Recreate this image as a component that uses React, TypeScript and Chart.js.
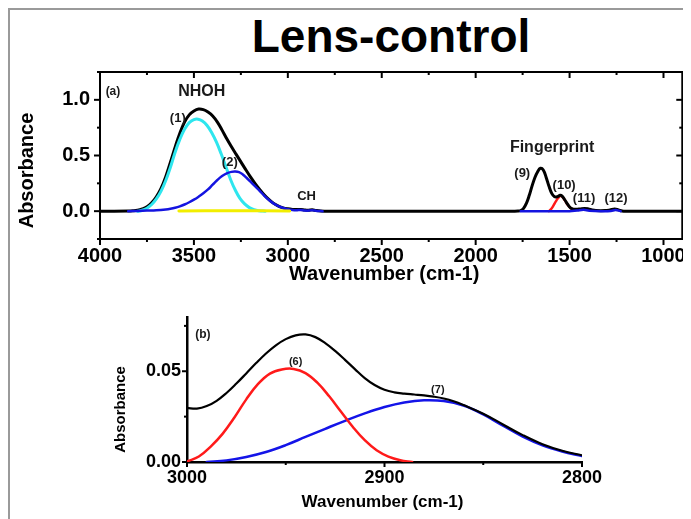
import React, { useEffect, useRef } from "react";
import { Chart, registerables } from "chart.js";
Chart.register(...registerables);

const FONT = '"Liberation Sans", Arial, Helvetica, sans-serif';

// ---------- Panel (a): full spectrum ----------
const totalWn = [4000, 3850, 3825, 3800, 3775, 3750, 3725, 3700, 3675, 3650, 3625, 3600, 3575, 3550, 3525, 3500, 3475, 3450, 3425, 3400, 3375, 3350, 3325, 3300, 3275, 3250, 3225, 3200, 3175, 3150, 3125, 3100, 3075, 3050, 3025, 3000, 2975, 2950, 2930, 2910, 2890, 2870, 2850, 2825, 2800,
  1800, 1775, 1760, 1745, 1730, 1715, 1700, 1685, 1670, 1655, 1640, 1625, 1610, 1595, 1580, 1565, 1550, 1540, 1525, 1510, 1495, 1480, 1465, 1445, 1420, 1400, 1380, 1360, 1310, 1285, 1260, 1240, 1220, 1200, 900];
const totalAbs = [0, 0.001, 0.003, 0.008, 0.02, 0.04, 0.075, 0.13, 0.205, 0.31, 0.44, 0.575, 0.7, 0.8, 0.865, 0.9, 0.917, 0.912, 0.89, 0.855, 0.8, 0.728, 0.65, 0.578, 0.51, 0.443, 0.375, 0.31, 0.25, 0.195, 0.145, 0.103, 0.07, 0.046, 0.03, 0.021, 0.016, 0.014, 0.016, 0.011, 0.009, 0.012, 0.006, 0.001, 0,
  0, 0.001, 0.006, 0.025, 0.07, 0.14, 0.225, 0.3, 0.355, 0.385, 0.37, 0.305, 0.225, 0.16, 0.13, 0.13, 0.142, 0.135, 0.1, 0.06, 0.03, 0.018, 0.017, 0.02, 0.025, 0.02, 0.01, 0.005, 0.005, 0.011, 0.02, 0.012, 0.002, 0, 0];

const band1Wn = [3800, 3775, 3750, 3725, 3700, 3675, 3650, 3625, 3600, 3575, 3550, 3525, 3500, 3478, 3455, 3430, 3405, 3380, 3355, 3330, 3305, 3280, 3255, 3230, 3205, 3180, 3155, 3120];
const band1Abs = [0, 0.008, 0.027, 0.06, 0.11, 0.18, 0.275, 0.395, 0.53, 0.645, 0.735, 0.795, 0.822, 0.826, 0.81, 0.77, 0.705, 0.62, 0.515, 0.4, 0.285, 0.19, 0.115, 0.065, 0.032, 0.013, 0.004, 0];

const band2Wn = [3850, 3800, 3750, 3700, 3650, 3625, 3600, 3575, 3550, 3525, 3500, 3475, 3450, 3425, 3400, 3375, 3350, 3325, 3300, 3280, 3260, 3240, 3220, 3200, 3175, 3150, 3125, 3100, 3075, 3050, 3025, 3000, 2975, 2955, 2930, 2910, 2890, 2870, 2845, 2815];
const band2Abs = [0, 0.002, 0.005, 0.008, 0.015, 0.021, 0.03, 0.043, 0.06, 0.08, 0.103, 0.13, 0.16, 0.195, 0.238, 0.28, 0.315, 0.34, 0.353, 0.356, 0.35, 0.33, 0.3, 0.267, 0.225, 0.183, 0.138, 0.1, 0.068, 0.045, 0.029, 0.018, 0.01, 0.008, 0.011, 0.006, 0.005, 0.009, 0.002, 0];

const yellowWn = [3580, 3300, 2990];
const yellowAbs = [0.002, 0.003, 0.002];

const fpBlueWn = [1760, 1500, 1460, 1425, 1395, 1330, 1280, 1255, 1228];
const fpBlueAbs = [0, 0, 0.006, 0.012, 0.004, 0, 0.002, 0.01, 0];

const band10Wn = [1610, 1598, 1586, 1574, 1562, 1550, 1540, 1525, 1510, 1495, 1480];
const band10Abs = [0, 0.02, 0.05, 0.085, 0.115, 0.138, 0.133, 0.098, 0.058, 0.028, 0.012];

const topLabels = [
  { text: "(a)", wn: 3931, abs: 1.07, size: 12 },
  { text: "NHOH", wn: 3458, abs: 1.07, size: 16 },
  { text: "(1)", wn: 3586, abs: 0.83, size: 13 },
  { text: "(2)", wn: 3309, abs: 0.436, size: 13 },
  { text: "CH", wn: 2900, abs: 0.128, size: 13 },
  { text: "Fingerprint", wn: 1593, abs: 0.573, size: 16 },
  { text: "(9)", wn: 1752, abs: 0.342, size: 13 },
  { text: "(10)", wn: 1529, abs: 0.231, size: 13 },
  { text: "(11)", wn: 1423, abs: 0.111, size: 13 },
  { text: "(12)", wn: 1253, abs: 0.111, size: 13 },
];

// ---------- Panel (b): CH region ----------
const bTotalWn = [3000, 2995, 2990, 2985, 2980, 2975, 2970, 2965, 2960, 2955, 2950, 2945, 2940, 2935, 2930, 2925, 2920, 2915, 2910, 2905, 2900, 2895, 2890, 2885, 2880, 2875, 2870, 2865, 2860, 2850, 2840, 2830, 2820, 2810, 2800];
const bTotalAbs = [0.0298, 0.0294, 0.0308, 0.0337, 0.038, 0.0432, 0.0488, 0.0545, 0.0598, 0.0643, 0.0677, 0.0698, 0.0703, 0.0688, 0.0655, 0.0612, 0.0563, 0.0512, 0.0462, 0.0424, 0.0398, 0.0384, 0.0377, 0.0372, 0.0367, 0.036, 0.035, 0.0335, 0.0314, 0.0266, 0.0207, 0.0148, 0.0098, 0.0062, 0.0037];

const band6Wn = [3000, 2994, 2988, 2982, 2976, 2970, 2964, 2958, 2952, 2946, 2940, 2934, 2928, 2922, 2916, 2910, 2904, 2898, 2892, 2886];
const band6Abs = [0.0003, 0.003, 0.0085, 0.0155, 0.0245, 0.0345, 0.043, 0.0487, 0.051, 0.0513, 0.049, 0.0437, 0.0362, 0.0277, 0.0193, 0.012, 0.0065, 0.003, 0.001, 0];

const band7Wn = [2990, 2980, 2970, 2960, 2950, 2940, 2930, 2920, 2910, 2900, 2890, 2880, 2870, 2860, 2850, 2840, 2830, 2820, 2810, 2800];
const band7Abs = [0, 0.0009, 0.0028, 0.0055, 0.0093, 0.0138, 0.0183, 0.0227, 0.0268, 0.0303, 0.0328, 0.034, 0.0336, 0.0311, 0.0262, 0.02, 0.014, 0.0092, 0.0058, 0.0033];

const bottomLabels = [
  { text: "(b)", wn: 2992, abs: 0.0702, size: 12 },
  { text: "(6)", wn: 2945, abs: 0.055, size: 11 },
  { text: "(7)", wn: 2873, abs: 0.0397, size: 11 },
];

const pts = (xs: number[], ys: number[]) => xs.map((x, i) => ({ x, y: ys[i] }));

const line = (label: string, data: any[], color: string, width: number) => ({
  label,
  data,
  borderColor: color,
  backgroundColor: color,
  borderWidth: width,
  pointRadius: 0,
  fill: false,
  tension: 0.4,
  borderJoinStyle: "round",
  borderCapStyle: "round",
});

const decorPlugin = {
  id: "decor",
  afterDraw(chart: any, _args: any, opts: any) {
    const { ctx, chartArea: a } = chart;
    const xs = chart.scales.x;
    const ys = chart.scales.y;
    ctx.save();
    ctx.strokeStyle = "#000";
    ctx.lineCap = "butt";
    const seg = (x1: number, y1: number, x2: number, y2: number, w: number) => {
      ctx.lineWidth = w;
      ctx.beginPath();
      ctx.moveTo(x1, y1);
      ctx.lineTo(x2, y2);
      ctx.stroke();
    };
    if (opts.box) {
      ctx.lineWidth = 2;
      ctx.strokeRect(a.left, a.top, a.right - a.left, a.bottom - a.top);
    }
    for (const t of xs.ticks) {
      const p = xs.getPixelForValue(t.value);
      const major = t.label !== "" && t.label != null;
      const len = major ? opts.major : opts.minor;
      seg(p, a.bottom, p, a.bottom + len, 2);
      if (opts.box) seg(p, a.top, p, a.top + len, 2);
    }
    for (const t of ys.ticks) {
      const p = ys.getPixelForValue(t.value);
      const major = t.label !== "" && t.label != null;
      const len = major ? opts.major : opts.minor;
      seg(a.left - len, p, a.left, p, 2);
      if (opts.box) seg(a.right, p, a.right - len, p, 2);
    }
    ctx.fillStyle = "#000";
    ctx.textAlign = "center";
    ctx.textBaseline = "middle";
    ctx.font = `bold ${opts.xTitleSize}px ${FONT}`;
    ctx.fillText(opts.xTitle, (a.left + a.right) / 2 + opts.xTitleDx, a.bottom + opts.xTitleDy);
    ctx.save();
    ctx.translate(a.left + opts.yTitleDx, (a.top + a.bottom) / 2 + opts.yTitleDy);
    ctx.rotate(-Math.PI / 2);
    ctx.font = `bold ${opts.yTitleSize}px ${FONT}`;
    ctx.fillText(opts.yTitle, 0, 0);
    ctx.restore();
    ctx.fillStyle = "#1a1a1a";
    for (const l of opts.labels) {
      ctx.font = `bold ${l.size}px ${FONT}`;
      ctx.fillText(l.text, xs.getPixelForValue(l.wn), ys.getPixelForValue(l.abs));
    }
    ctx.restore();
  },
};

export default function App() {
  const topRef = useRef<HTMLCanvasElement>(null);
  const botRef = useRef<HTMLCanvasElement>(null);

  useEffect(() => {
    document.documentElement.style.overflow = "hidden";
    const top = new Chart(topRef.current as HTMLCanvasElement, {
      type: "line",
      data: {
        datasets: [
          line("yellow", pts(yellowWn, yellowAbs), "#f2ee00", 3),
          line("fp", pts(fpBlueWn, fpBlueAbs), "#1414e0", 2.5),
          line("(2)", pts(band2Wn, band2Abs), "#1414e0", 2.5),
          line("(1)", pts(band1Wn, band1Abs), "#2ee6ee", 3),
          line("total", pts(totalWn, totalAbs), "#000000", 3),
          line("(10)", pts(band10Wn, band10Abs), "#ff1a1a", 2.5),
        ] as any,
      },
      options: {
        responsive: false,
        animation: false,
        events: [],
        layout: { padding: { top: 14, right: 8, left: 0, bottom: 0 } },
        plugins: {
          legend: { display: false },
          tooltip: { enabled: false },
          decor: {
            box: true,
            major: 6,
            minor: 3,
            xTitle: "Wavenumber (cm-1)",
            xTitleSize: 20,
            xTitleDx: -7,
            xTitleDy: 35,
            yTitle: "Absorbance",
            yTitleSize: 20,
            yTitleDx: -73,
            yTitleDy: 15,
            labels: topLabels,
          },
        } as any,
        scales: {
          x: {
            type: "linear",
            reverse: true,
            min: 900,
            max: 4000,
            afterFit: (s: any) => { s.height = 51; },
            grid: { display: false, drawTicks: false },
            border: { display: true, color: "#000", width: 2 },
            ticks: {
              stepSize: 250,
              includeBounds: false,
              autoSkip: false,
              maxRotation: 0,
              padding: 5,
              color: "#000",
              font: { family: FONT, size: 20, weight: "bold" },
              callback: (v: any) => (Math.round(v) % 500 === 0 ? String(Math.round(v)) : ""),
            },
          },
          y: {
            type: "linear",
            min: -0.25,
            max: 1.25,
            afterFit: (s: any) => { s.width = 90; },
            grid: { display: false, drawTicks: false },
            border: { display: true, color: "#000", width: 2 },
            ticks: {
              stepSize: 0.25,
              autoSkip: false,
              padding: 10,
              color: "#000",
              font: { family: FONT, size: 20, weight: "bold" },
              callback: (v: any) => {
                const k = v * 2;
                return Math.abs(k - Math.round(k)) < 1e-6 && v >= 0 && v <= 1.0001 ? Number(v).toFixed(1) : "";
              },
            },
          },
        } as any,
      },
      plugins: [decorPlugin as any],
    });

    const bot = new Chart(botRef.current as HTMLCanvasElement, {
      type: "line",
      data: {
        datasets: [
          line("total", pts(bTotalWn, bTotalAbs), "#000000", 2.2),
          line("(6)", pts(band6Wn, band6Abs), "#ff1a1a", 2.5),
          line("(7)", pts(band7Wn, band7Abs), "#1414e8", 2.5),
        ] as any,
      },
      options: {
        responsive: false,
        animation: false,
        events: [],
        layout: { padding: { top: 15, right: 109, left: 0, bottom: 0 } },
        plugins: {
          legend: { display: false },
          tooltip: { enabled: false },
          decor: {
            box: false,
            major: 5,
            minor: 3,
            xTitle: "Wavenumber (cm-1)",
            xTitleSize: 17,
            xTitleDx: -2,
            xTitleDy: 40,
            yTitle: "Absorbance",
            yTitleSize: 15,
            yTitleDx: -66,
            yTitleDy: 20,
            labels: bottomLabels,
          },
        } as any,
        scales: {
          x: {
            type: "linear",
            reverse: true,
            min: 2800,
            max: 3000,
            afterFit: (s: any) => { s.height = 57; },
            grid: { display: false, drawTicks: false },
            border: { display: true, color: "#000", width: 2.5 },
            ticks: {
              stepSize: 50,
              includeBounds: false,
              autoSkip: false,
              maxRotation: 0,
              padding: 5,
              color: "#000",
              font: { family: FONT, size: 18, weight: "bold" },
              callback: (v: any) => (Math.round(v) % 100 === 0 ? String(Math.round(v)) : ""),
            },
          },
          y: {
            type: "linear",
            min: 0,
            max: 0.08,
            afterFit: (s: any) => { s.width = 177; },
            grid: { display: false, drawTicks: false },
            border: { display: true, color: "#000", width: 2.5 },
            ticks: {
              stepSize: 0.025,
              includeBounds: false,
              autoSkip: false,
              padding: 6,
              color: "#000",
              font: { family: FONT, size: 18, weight: "bold" },
              callback: (v: any) => {
                const k = v * 20;
                return Math.abs(k - Math.round(k)) < 1e-6 ? Number(v).toFixed(2) : "";
              },
            },
          },
        } as any,
      },
      plugins: [decorPlugin as any],
    });

    return () => {
      top.destroy();
      bot.destroy();
    };
  }, []);

  return (
    <div
      style={{
        position: "relative",
        width: 683,
        height: 511,
        boxSizing: "border-box",
        borderTop: "2px solid #9a9a9a",
        borderLeft: "2px solid #9a9a9a",
        background: "#fff",
      }}
    >
      <div
        style={{
          position: "absolute",
          left: 381,
          top: 3,
          transform: "translateX(-50%)",
          whiteSpace: "nowrap",
          fontFamily: FONT,
          fontWeight: "bold",
          fontSize: 46,
          lineHeight: "46px",
          color: "#000",
        }}
      >
        Lens-control
      </div>
      <canvas
        ref={topRef}
        width={681}
        height={240}
        style={{ position: "absolute", left: 0, top: 40, display: "block" }}
      />
      <canvas
        ref={botRef}
        width={681}
        height={219}
        style={{ position: "absolute", left: 0, top: 290, display: "block" }}
      />
    </div>
  );
}
